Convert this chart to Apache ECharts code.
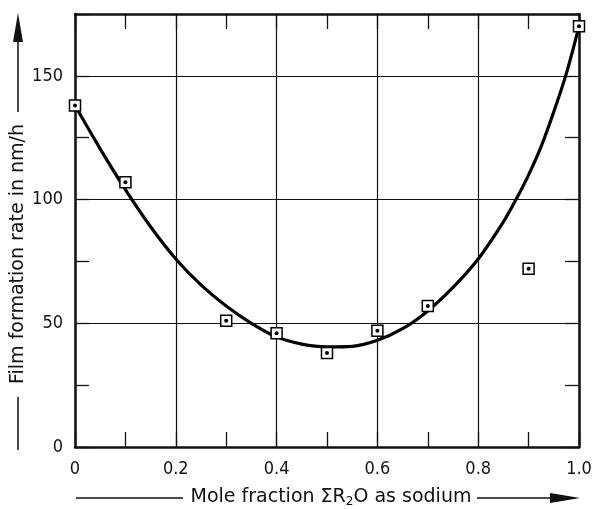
<!DOCTYPE html>
<html>
<head>
<meta charset="utf-8">
<script src="https://cdn.jsdelivr.net/npm/echarts@6/dist/echarts.min.js"></script>
<style>
  html, body { margin: 0; padding: 0; background: #fff; }
  #chart { width: 597px; height: 509px; }
</style>
</head>
<body>
<div id="chart"></div>
<script>
// measured points (square markers)
var sampleX = [0, 0.1, 0.3, 0.4, 0.5, 0.6, 0.7, 0.9, 1.0];
var sampleY = [138, 107, 51, 46, 38, 47, 57, 72, 170];

// fitted curve
var curveX = [0, 0.05, 0.1, 0.15, 0.2, 0.25, 0.3, 0.35, 0.4, 0.45, 0.5, 0.55, 0.6, 0.65, 0.7, 0.75, 0.8, 0.85, 0.875, 0.9, 0.925, 0.95, 0.975, 1.0];
var curveY = [138, 120.5, 104, 89, 76, 65.5, 57, 50, 44.5, 41.6, 40.5, 40.7, 43.1, 47.8, 55, 64.5, 76, 91, 100, 110, 121.5, 135.5, 151, 170];

var xLabels = ['0', '0.2', '0.4', '0.6', '0.8', '1.0'];
var yLabels = ['0', '50', '100', '150'];

var tickFont = '"DejaVu Sans Condensed", "DejaVu Sans", sans-serif';
var titleFont = '"DejaVu Sans", sans-serif';
var ink = '#111';

function pairs(xs, ys) {
  var out = [];
  for (var i = 0; i < xs.length; i++) out.push([xs[i], ys[i]]);
  return out;
}

var myChart = echarts.init(document.getElementById('chart'), null, {renderer: 'canvas'});

var tickAxisX = {
  type: 'value', min: 0, max: 1, interval: 0.1,
  axisLine: {show: true, onZero: false, lineStyle: {color: ink, width: 2.5}},
  axisTick: {show: true, inside: true, length: 15, lineStyle: {color: ink, width: 1.3}},
  splitLine: {show: false}
};
var tickAxisY = {
  type: 'value', min: 0, max: 175, interval: 25,
  axisLine: {show: true, onZero: false, lineStyle: {color: ink, width: 2.5}},
  axisTick: {show: true, inside: true, length: 14, lineStyle: {color: ink, width: 1.3}},
  splitLine: {show: false}
};

option = {
  animation: false,
  backgroundColor: '#fff',
  grid: {left: 75, right: 18, top: 14, bottom: 62, containLabel: false},
  xAxis: [
    Object.assign({}, tickAxisX, {
      position: 'bottom',
      axisLabel: {
        show: true, margin: 13, color: ink, fontFamily: tickFont, fontSize: 18,
        formatter: function (v) {
          var k = Math.round(v * 10);
          return k % 2 === 0 ? xLabels[k / 2] : '';
        }
      }
    }),
    Object.assign({}, tickAxisX, {position: 'top', axisLabel: {show: false}}),
    {
      type: 'value', min: 0, max: 1, interval: 0.2, show: true,
      axisLine: {show: false}, axisTick: {show: false}, axisLabel: {show: false},
      splitLine: {show: true, lineStyle: {color: ink, width: 1.2}}
    }
  ],
  yAxis: [
    Object.assign({}, tickAxisY, {
      position: 'left',
      axisLabel: {
        show: true, margin: 12, color: ink, fontFamily: tickFont, fontSize: 18,
        formatter: function (v) {
          return (v % 50 === 0 && v < 175) ? yLabels[v / 50] : '';
        }
      }
    }),
    Object.assign({}, tickAxisY, {position: 'right', axisLabel: {show: false}}),
    {
      type: 'value', min: 0, max: 175, interval: 50, show: true,
      axisLine: {show: false}, axisTick: {show: false}, axisLabel: {show: false},
      splitLine: {show: true, lineStyle: {color: ink, width: 1.2}}
    }
  ],
  series: [
    {
      name: 'fit',
      type: 'line',
      data: pairs(curveX, curveY),
      smooth: 0.3,
      showSymbol: false,
      lineStyle: {color: '#000', width: 3.2},
      z: 3
    },
    {
      name: 'measured',
      type: 'scatter',
      data: pairs(sampleX, sampleY),
      symbol: 'rect',
      symbolSize: 11,
      itemStyle: {color: '#fff', borderColor: '#000', borderWidth: 1.5, opacity: 1},
      z: 5
    },
    {
      name: 'dots',
      type: 'scatter',
      data: pairs(sampleX, sampleY),
      symbol: 'circle',
      symbolSize: 4,
      itemStyle: {color: '#000', opacity: 1},
      z: 6
    }
  ],
  graphic: [
    // y title with lead line and arrow
    {type: 'line', shape: {x1: 18, y1: 450, x2: 18, y2: 397}, style: {stroke: ink, lineWidth: 1.5}},
    {type: 'line', shape: {x1: 18, y1: 112, x2: 18, y2: 40}, style: {stroke: ink, lineWidth: 1.5}},
    {type: 'polygon', shape: {points: [[18, 13], [13, 42], [23, 42]]}, style: {fill: ink}},
    {
      type: 'text', x: 18, y: 254, rotation: Math.PI / 2,
      style: {
        text: 'Film formation rate in nm/h', fill: ink,
        font: '19px ' + titleFont, align: 'center', verticalAlign: 'middle'
      }
    },
    // x title with lead line and arrow
    {type: 'line', shape: {x1: 76, y1: 498, x2: 183, y2: 498}, style: {stroke: ink, lineWidth: 1.5}},
    {type: 'line', shape: {x1: 477, y1: 498, x2: 552, y2: 498}, style: {stroke: ink, lineWidth: 1.5}},
    {type: 'polygon', shape: {points: [[580, 498], [550, 493], [550, 503]]}, style: {fill: ink}},
    {
      type: 'text', x: 331, y: 497,
      style: {
        text: '{a|Mole fraction ΣR}{s|2}{a|O as sodium}',
        fill: ink, align: 'center', verticalAlign: 'middle',
        rich: {
          a: {fontFamily: titleFont, fontSize: 19, fill: ink, lineHeight: 22},
          s: {fontFamily: titleFont, fontSize: 12, fill: ink, lineHeight: 22, verticalAlign: 'bottom', padding: [8, 0, 0, 0]}
        }
      }
    }
  ]
};
myChart.setOption(option);
</script>
</body>
</html>
